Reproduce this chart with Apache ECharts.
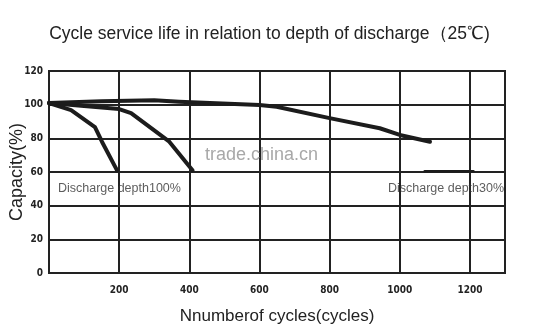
<!DOCTYPE html>
<html><head><meta charset="utf-8">
<script src="https://cdn.jsdelivr.net/npm/echarts@6/dist/echarts.min.js"></script>
<style>html,body{margin:0;padding:0;background:#fff;}#c{width:539px;height:325px;}</style>
</head><body><div id="c"></div>
<script>
const xTicks = [0, 200, 400, 600, 800, 1000, 1200];
const yTicks = [0, 20, 40, 60, 80, 100, 120];
const cycles100 = [0, 63, 131, 151, 194];
const cap100 = [101, 96.8, 86.7, 78, 61];
const cycles50 = [0, 200, 234, 343, 409];
const cap50 = [101, 97.4, 95, 78, 61];
const cycles30 = [0, 150, 300, 371, 600, 649, 800, 943, 1000, 1086];
const cap30 = [101, 102, 102.6, 101.8, 99.8, 98.8, 92, 86, 82, 78];
const cycles30end = [1071, 1210];
const cap30end = [60.5, 60.5];
const labels = ['Discharge depth100%', 'Discharge depth30%'];
const labelX = [24, 965];
const labelY = [50, 50];

const zip = (a, b) => a.map((v, i) => [v, b[i]]);
const lineStyle = {color: '#1c1c1c', width: 4, cap: 'round', join: 'round'};
const mk = (xs, ys) => ({type: 'line', data: zip(xs, ys), symbol: 'none', smooth: false, lineStyle, z: 5});

const chart = echarts.init(document.getElementById('c'), null, {renderer: 'canvas'});
chart.setOption({
  animation: false,
  backgroundColor: '#fff',
  title: {
    text: 'Cycle service life in relation to depth of discharge（25℃)',
    left: 'center', top: 20,
    textStyle: {fontFamily: 'Liberation Sans, Arial', fontSize: 17.5, fontWeight: 'normal', color: '#222'}
  },
  grid: {left: 49, right: 34, top: 71, bottom: 52, show: true, borderColor: '#222', borderWidth: 2,
         containLabel: false, outerBoundsMode: 'none'},
  xAxis: {
    type: 'value', min: 0, max: 1300, interval: 200,
    name: 'Nnumberof cycles(cycles)', nameLocation: 'middle', nameGap: 35,
    nameTextStyle: {fontFamily: 'Liberation Sans, Arial', fontSize: 17, color: '#222'},
    axisLine: {show: false}, axisTick: {show: false},
    axisLabel: {
      margin: 12, color: '#222', fontSize: 10, fontWeight: 'bold',
      fontFamily: 'Liberation Sans Narrow, DejaVu Sans Condensed, Arial',
      formatter: v => (xTicks.includes(v) && v !== 0) ? String(v) : ''
    },
    splitLine: {show: true, lineStyle: {color: '#222', width: 2}}
  },
  yAxis: {
    type: 'value', min: 0, max: 120, interval: 20,
    name: 'Capacity(%)', nameLocation: 'middle', nameGap: 23, nameRotate: 90, nameMoveOverlap: false,
    nameTextStyle: {fontFamily: 'Liberation Sans, Arial', fontSize: 18, color: '#222'},
    axisLine: {show: false}, axisTick: {show: false},
    axisLabel: {
      margin: 6, color: '#222', fontSize: 10, fontWeight: 'bold',
      fontFamily: 'Liberation Sans Narrow, DejaVu Sans Condensed, Arial',
      formatter: v => yTicks.includes(v) ? String(v) : ''
    },
    splitLine: {show: true, lineStyle: {color: '#222', width: 2}}
  },
  series: [
    mk(cycles100, cap100),
    mk(cycles50, cap50),
    mk(cycles30, cap30),
    Object.assign(mk(cycles30end, cap30end), {lineStyle: Object.assign({}, lineStyle, {width: 2.5})}),
    {
      type: 'scatter', symbol: 'circle', symbolSize: 1, itemStyle: {color: 'rgba(0,0,0,0)'}, z: 6,
      data: labels.map((t, i) => ({value: [labelX[i], labelY[i]], name: t})),
      label: {show: true, formatter: p => p.name, position: 'right', distance: 0,
              color: '#333', fontSize: 12.5, fontFamily: 'Liberation Sans, Arial'}
    }
  ],
  graphic: [{
    type: 'text', left: 205, top: 146, z: 10,
    style: {text: 'trade.china.cn', fontSize: 18, fontFamily: 'Liberation Sans, Arial', fill: '#a8a8a8'}
  }]
});
</script></body></html>
